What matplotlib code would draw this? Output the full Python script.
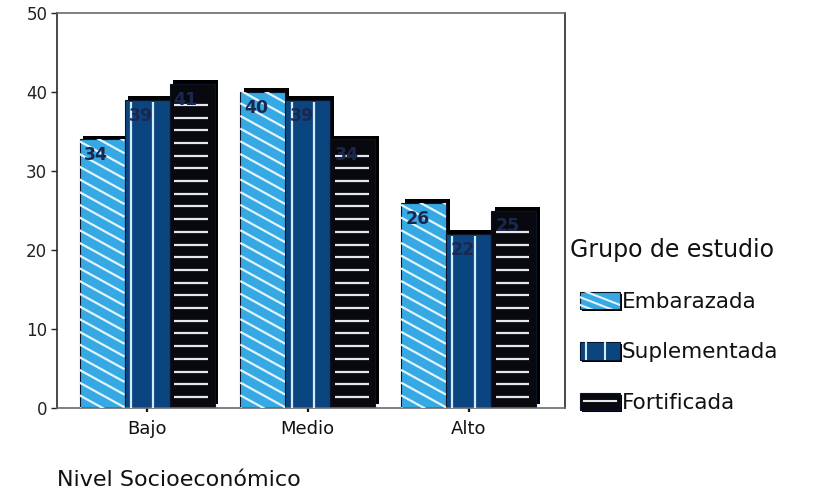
import numpy as np
import matplotlib
matplotlib.use("Agg")
import matplotlib.pyplot as plt
from matplotlib.patches import Rectangle
from matplotlib.lines import Line2D
from matplotlib.legend_handler import HandlerBase
import matplotlib.patheffects as pe

# Porcentaje de cada grupo de estudio por nivel socioeconómico
niveles = ["Bajo", "Medio", "Alto"]
grupos = ["Embarazada", "Suplementada", "Fortificada"]
embarazada = [34, 40, 26]
suplementada = [39, 39, 22]
fortificada = [41, 34, 25]
y_ticks = [0, 10, 20, 30, 40, 50]

face = {"Embarazada": "#36a9e4", "Suplementada": "#0b4580", "Fortificada": "#08080f"}
stripe = {"Embarazada": "#e2f4fd", "Suplementada": "#d4ecfa", "Fortificada": "#e6e6ee"}
kind = {"Embarazada": "diag", "Suplementada": "vert", "Fortificada": "horiz"}

plt.rcParams["font.family"] = ["DejaVu Sans"]

fig = plt.figure(figsize=(8.22, 4.92), dpi=100)
ax = fig.add_axes([57 / 822, 84 / 492, 508 / 822, 395 / 492])
ax.set_xlim(-0.56, 2.60)
ax.set_ylim(0, 50)

width = 0.28
x = np.arange(len(niveles))
series = [embarazada, suplementada, fortificada]


def shadow_fx():
    return [pe.SimplePatchShadow(offset=(2.8, 2.8), shadow_rgbFace="black", alpha=1.0),
            pe.Normal()]


containers = []
for i, (name, vals) in enumerate(zip(grupos, series)):
    bc = ax.bar(x + (i - 1) * width, vals, width, color=face[name],
                edgecolor="#0a1428", linewidth=0.8, zorder=2, label=name)
    for p in bc.patches:
        p.set_path_effects(shadow_fx())
    containers.append(bc)

# pixel scale of the data axes, used to lay out the fill patterns
p0 = ax.transData.transform((0, 0))
p1 = ax.transData.transform((1, 1))
px_x = p1[0] - p0[0]
px_y = p1[1] - p0[1]

diag_slope = -0.55 * px_x / px_y      # white stripes falling to the right
diag_step = 12.7 / px_y
horiz_step = 12.7 / px_y


def pattern_lines(kind_name, xl, bw, h):
    segs = []
    if kind_name == "diag":
        c = 0.0
        while c < h - diag_slope * bw + diag_step:
            segs.append(((xl, xl + bw), (c, c + diag_slope * bw)))
            c += diag_step
    elif kind_name == "vert":
        for f in (0.14, 0.64):
            xv = xl + f * bw
            segs.append(((xv, xv), (0, h - 0.25)))
    else:
        for yv in np.arange(1.4, h - 1.2, horiz_step):
            segs.append(((xl + 0.1 * bw, xl + 0.85 * bw), (yv, yv)))
    return segs


for name, bc, vals in zip(grupos, containers, series):
    for p, v in zip(bc.patches, vals):
        xl = p.get_x()
        bw = p.get_width()
        for xs, ys in pattern_lines(kind[name], xl, bw, v):
            ln = Line2D(xs, ys, color=stripe[name], linewidth=1.6, zorder=3,
                        solid_capstyle="butt")
            ax.add_line(ln)
            ln.set_clip_path(p)
        ax.annotate(f"{v}", xy=(xl, v), xytext=(3, -5), textcoords="offset points",
                    ha="left", va="top", fontsize=12.5, fontweight="bold",
                    color="#1a2850", zorder=5)


class SwatchHandler(HandlerBase):
    def __init__(self, name):
        super().__init__()
        self.name = name

    def create_artists(self, legend, orig_handle, xdescent, ydescent,
                       width, height, fontsize, trans):
        x0, y0 = -xdescent, -ydescent
        rect = Rectangle((x0, y0), width, height, facecolor=face[self.name],
                         edgecolor="#0a1428", linewidth=0.8, transform=trans)
        rect.set_path_effects([pe.SimplePatchShadow(offset=(1.5, -1.5),
                                                    shadow_rgbFace="black", alpha=1.0),
                               pe.Normal()])
        arts = [rect]
        k = kind[self.name]
        if k == "diag":
            for c in np.arange(-0.2, 1.6, 0.45):
                xs = (x0, x0 + width)
                ys = (y0 + c * height, y0 + (c - 0.9) * height)
                arts.append(Line2D(xs, ys, color=stripe[self.name], linewidth=1.5,
                                   transform=trans))
        elif k == "vert":
            for f in (0.15, 0.62):
                xv = x0 + f * width
                arts.append(Line2D((xv, xv), (y0, y0 + height), color=stripe[self.name],
                                   linewidth=1.5, transform=trans))
        else:
            yv = y0 + 0.5 * height
            arts.append(Line2D((x0 + 0.1 * width, x0 + 0.9 * width), (yv, yv),
                               color=stripe[self.name], linewidth=1.5, transform=trans))
        for a in arts[1:]:
            a.set_clip_path(rect)
        return arts


ax.set_xticks(x, niveles)
ax.set_yticks(y_ticks)
ax.tick_params(axis="y", direction="out", length=4, width=1, pad=3,
               labelsize=12, color="#222222", labelcolor="#222222")
ax.tick_params(axis="x", direction="out", length=3, width=1.6, pad=6,
               labelsize=13, color="#111111", labelcolor="#111111")

for side in ("left", "right"):
    ax.spines[side].set_color("#2a2a2a")
    ax.spines[side].set_linewidth(1.2)
for side in ("top", "bottom"):
    ax.spines[side].set_color("#6a6a6a")
    ax.spines[side].set_linewidth(1.2)

fig.text(57 / 822, 1 - 480 / 492, "Nivel Socioeconómico", fontsize=16,
         ha="left", va="center", color="#111111")

# legend title set as its own text, entries below it
fig.text(570 / 822, 1 - 250 / 492, "Grupo de estudio", fontsize=17,
         ha="left", va="center", color="#111111")

leg = ax.legend(handles=containers, labels=grupos,
                handler_map={bc: SwatchHandler(n) for bc, n in zip(containers, grupos)},
                loc="upper left", bbox_to_anchor=(580 / 822, 1 - 292 / 492),
                bbox_transform=fig.transFigure, frameon=False, fontsize=15.5,
                handlelength=1.85, handleheight=0.85,
                handletextpad=0.1, labelspacing=1.41, borderpad=0, borderaxespad=0)
for t in leg.get_texts():
    t.set_color("#111111")

fig.savefig("out.png", dpi=100, facecolor="white")
